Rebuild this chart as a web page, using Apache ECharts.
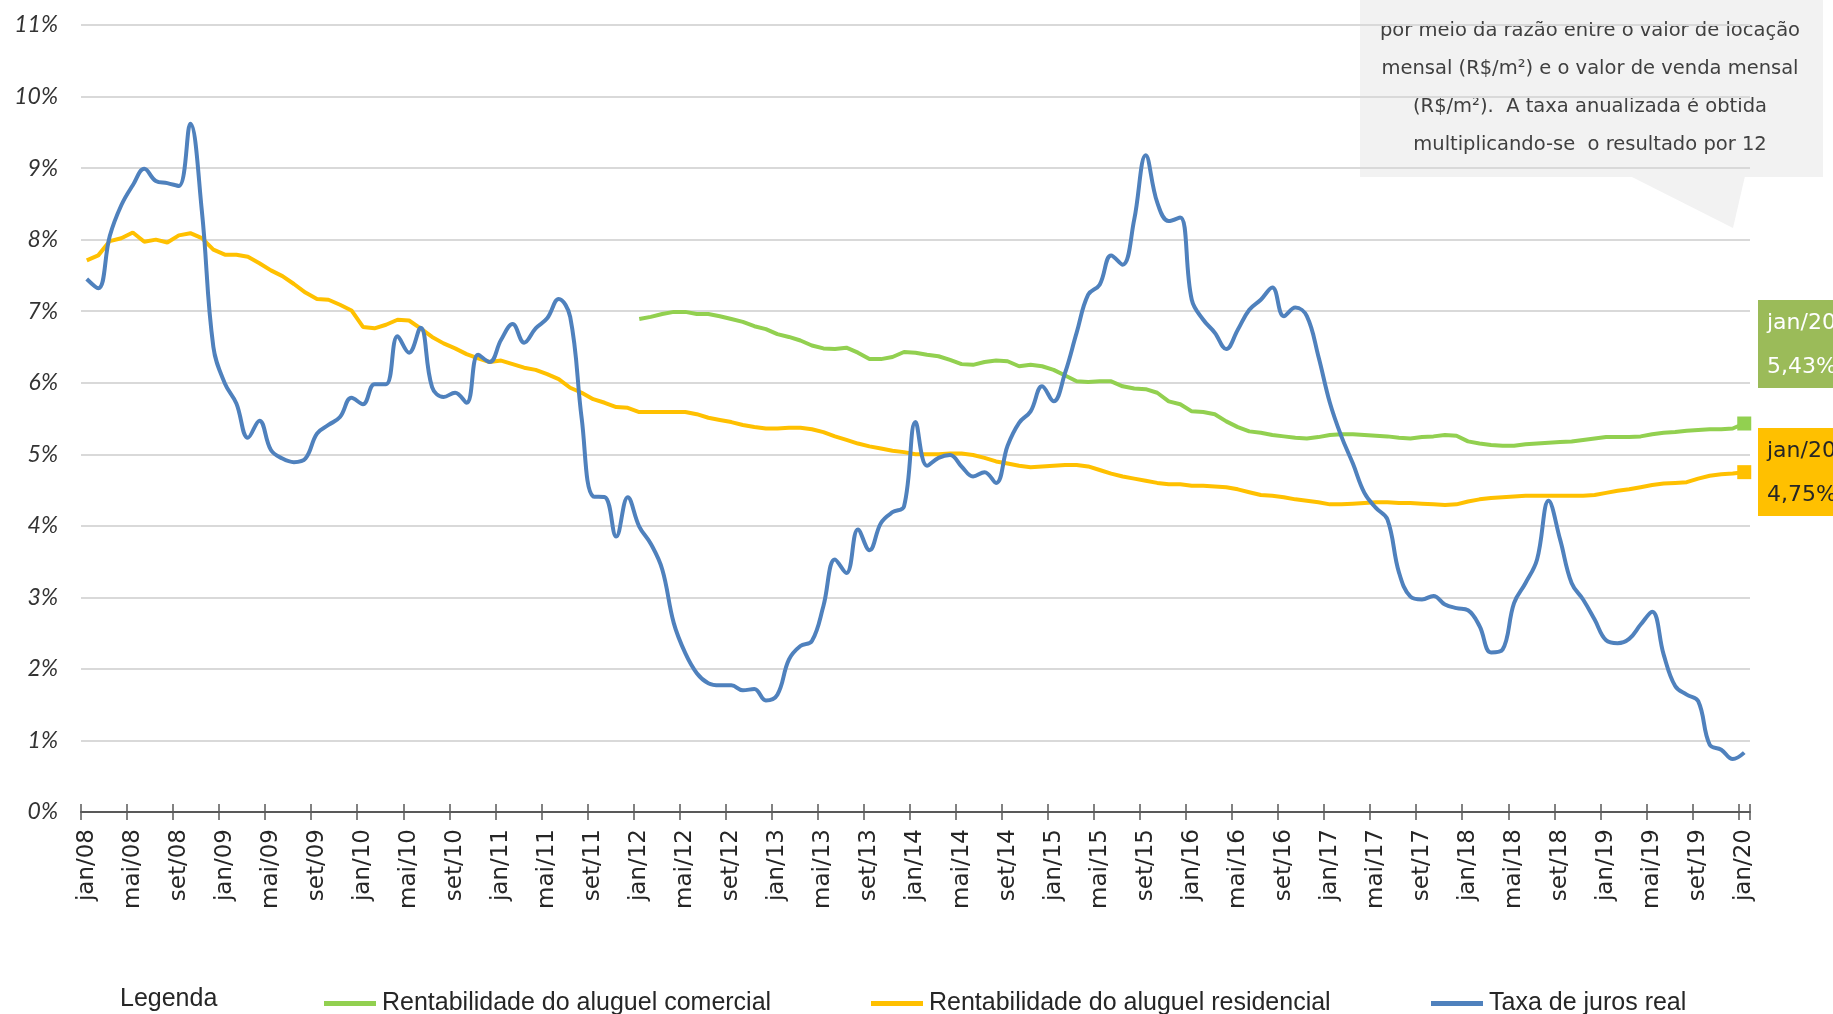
<!DOCTYPE html>
<html>
<head>
<meta charset="utf-8">
<script src="https://cdn.jsdelivr.net/npm/echarts@6/dist/echarts.min.js"></script>
<style>
html,body{margin:0;padding:0;background:#fff;}
#chart{width:1833px;height:1014px;}
</style>
</head>
<body>
<div id="chart"></div>
<script>
// ---- data ----
const monthNames = ['jan','fev','mar','abr','mai','jun','jul','ago','set','out','nov','dez'];
const yearNames = ['08','09','10','11','12','13','14','15','16','17','18','19','20'];
const categories = [];
for (const y of yearNames) { for (const m of monthNames) { if (categories.length < 145) categories.push(m + '/' + y); } }

const yTicks = [0,1,2,3,4,5,6,7,8,9,10,11];

const seriesNames = ['Rentabilidade do aluguel comercial', 'Rentabilidade do aluguel residencial', 'Taxa de juros real'];

const taxaJurosReal = [
7.45,7.32,8.05,8.48,8.76,8.99,8.82,8.79,8.75,9.62,8.40,6.50,
5.99,5.71,5.23,5.47,5.06,4.94,4.89,4.94,5.29,5.41,5.52,5.79,
5.70,5.98,5.98,6.65,6.42,6.77,5.94,5.80,5.86,5.72,6.39,6.29,
6.60,6.82,6.56,6.76,6.90,7.17,6.92,5.50,4.41,4.40,3.85,4.40,
3.99,3.75,3.39,2.64,2.22,1.94,1.80,1.77,1.77,1.70,1.72,1.56,
1.64,2.13,2.32,2.39,2.88,3.53,3.34,3.95,3.66,4.04,4.19,4.27,
5.45,4.84,4.95,4.99,4.83,4.69,4.75,4.60,5.12,5.44,5.60,5.95,
5.74,6.14,6.70,7.23,7.37,7.78,7.65,8.28,9.18,8.52,8.26,8.31,
7.16,6.88,6.70,6.47,6.74,7.02,7.16,7.33,6.93,7.05,6.93,6.37,
5.72,5.25,4.87,4.46,4.25,4.09,3.35,3.01,2.97,3.02,2.90,2.85,
2.82,2.60,2.23,2.27,2.92,3.20,3.53,4.35,3.81,3.20,2.97,2.69,
2.40,2.36,2.42,2.62,2.80,2.20,1.76,1.64,1.55,0.94,0.87,0.74,
0.83];

const aluguelResidencial = [
7.71,7.78,7.98,8.02,8.10,7.97,8.00,7.96,8.06,8.09,8.02,7.86,
7.79,7.79,7.76,7.67,7.57,7.49,7.38,7.26,7.17,7.16,7.09,7.01,
6.78,6.76,6.81,6.88,6.87,6.76,6.64,6.55,6.48,6.40,6.34,6.29,
6.31,6.26,6.21,6.18,6.12,6.05,5.93,5.86,5.77,5.72,5.66,5.65,
5.59,5.59,5.59,5.59,5.59,5.56,5.51,5.48,5.45,5.41,5.38,5.36,
5.36,5.37,5.37,5.35,5.31,5.25,5.20,5.15,5.11,5.08,5.05,5.03,
5.00,5.00,5.00,5.01,5.01,4.99,4.95,4.90,4.87,4.84,4.82,4.83,
4.84,4.85,4.85,4.83,4.78,4.73,4.69,4.66,4.63,4.60,4.58,4.58,
4.56,4.56,4.55,4.54,4.51,4.47,4.43,4.42,4.40,4.37,4.35,4.33,
4.30,4.30,4.31,4.32,4.33,4.33,4.32,4.32,4.31,4.30,4.29,4.30,
4.34,4.37,4.39,4.40,4.41,4.42,4.42,4.42,4.42,4.42,4.42,4.43,
4.46,4.49,4.51,4.54,4.57,4.59,4.60,4.61,4.66,4.70,4.72,4.73,
4.75];

const aluguelComercial = [
null,null,null,null,null,null,null,null,null,null,null,null,
null,null,null,null,null,null,null,null,null,null,null,null,
null,null,null,null,null,null,null,null,null,null,null,null,
null,null,null,null,null,null,null,null,null,null,null,null,
6.89,6.92,6.96,6.99,6.99,6.96,6.96,6.93,6.89,6.85,6.79,6.75,
6.68,6.64,6.59,6.52,6.48,6.47,6.49,6.42,6.33,6.33,6.36,6.43,
6.42,6.39,6.37,6.32,6.26,6.25,6.29,6.31,6.30,6.23,6.25,6.23,
6.18,6.10,6.02,6.01,6.02,6.02,5.95,5.92,5.91,5.86,5.74,5.70,
5.60,5.59,5.56,5.46,5.38,5.32,5.30,5.27,5.25,5.23,5.22,5.24,
5.27,5.28,5.28,5.27,5.26,5.25,5.23,5.22,5.24,5.25,5.27,5.26,
5.18,5.15,5.13,5.12,5.12,5.14,5.15,5.16,5.17,5.18,5.20,5.22,
5.24,5.24,5.24,5.25,5.28,5.30,5.31,5.33,5.34,5.35,5.35,5.36,
5.43];

const lastLabelComercial = ['jan/20', '5,43%'];
const lastLabelResidencial = ['jan/20', '4,75%'];

const noteLines = [
  'por meio da razão entre o valor de locação',
  'mensal (R$/m²) e o valor de venda mensal',
  '(R$/m²).  A taxa anualizada é obtida',
  'multiplicando-se  o resultado por 12'
];

// ---- chart ----
const chart = echarts.init(document.getElementById('chart'));

function withEndMarker(arr) {
  return arr.map((v, i) => i === arr.length - 1 ? { value: v, symbol: 'rect', symbolSize: 14 } : v);
}

const COL_GREEN = '#92d050', COL_YELLOW = '#ffc000', COL_BLUE = '#4f81bd';

const legendCommon = {
  icon: 'rect', itemWidth: 52, itemHeight: 5, itemGap: 6, top: 991, padding: 0,
  textStyle: { fontFamily: 'Liberation Sans', fontSize: 25, color: '#262626', padding: [0,0,0,1] },
  selectedMode: false
};

const noteGraphics = noteLines.map((t, i) => ({
  type: 'text', z: -9,
  style: { text: t, x: 1590, y: 31 + i * 38, align: 'center', verticalAlign: 'middle',
           font: '19.5px "DejaVu Sans"', fill: '#404040' }
}));

chart.setOption({
  animation: false,
  backgroundColor: '#ffffff',
  grid: { left: 81, right: 83, top: 25, bottom: 202, containLabel: false },
  legend: [
    Object.assign({}, legendCommon, { left: 324, data: [seriesNames[0]] }),
    Object.assign({}, legendCommon, { left: 871, data: [seriesNames[1]] }),
    Object.assign({}, legendCommon, { left: 1431, data: [seriesNames[2]] })
  ],
  xAxis: [{
    type: 'category', data: categories, boundaryGap: true, position: 'bottom',
    axisLine: { show: true, lineStyle: { color: '#595959', width: 2 } },
    axisTick: { show: true, interval: 3, length: 8, lineStyle: { color: '#595959', width: 1.5 } },
    axisLabel: { interval: 3, rotate: 90, margin: 17, fontFamily: 'DejaVu Sans', fontSize: 23, color: '#262626' },
    splitLine: { show: false }
  }, {
    type: 'category', data: categories, boundaryGap: true, position: 'bottom',
    axisLine: { show: false },
    axisTick: { show: true, inside: true, interval: 3, length: 8, lineStyle: { color: '#595959', width: 1.5 } },
    axisLabel: { show: false },
    splitLine: { show: false }
  }],
  yAxis: {
    type: 'value', min: yTicks[0], max: yTicks[yTicks.length - 1], interval: 1,
    axisLine: { show: false }, axisTick: { show: false },
    axisLabel: { formatter: '{value}%', margin: 23, fontFamily: 'Lato', fontStyle: 'italic',
                 fontSize: 23, color: '#333333' },
    splitLine: { show: true, lineStyle: { color: '#d9d9d9', width: 2 } }
  },
  series: [
    { name: seriesNames[0], type: 'line', data: withEndMarker(aluguelComercial), symbol: 'none',
      showAllSymbol: true, connectNulls: false, color: COL_GREEN,
      lineStyle: { width: 4, color: COL_GREEN }, itemStyle: { color: COL_GREEN }, z: 3 },
    { name: seriesNames[1], type: 'line', data: withEndMarker(aluguelResidencial), symbol: 'none',
      showAllSymbol: true, color: COL_YELLOW,
      lineStyle: { width: 4, color: COL_YELLOW }, itemStyle: { color: COL_YELLOW }, z: 3 },
    { name: seriesNames[2], type: 'line', data: taxaJurosReal, symbol: 'none', smooth: 0.4,
      color: COL_BLUE, lineStyle: { width: 4, color: COL_BLUE }, itemStyle: { color: COL_BLUE }, z: 4 }
  ],
  graphic: [
    { type: 'rect', z: -10, shape: { x: 1360, y: -5, width: 463, height: 182 }, style: { fill: '#f2f2f2' } },
    { type: 'polygon', z: -10, shape: { points: [[1630,176],[1745,176],[1733,228]] }, style: { fill: '#f2f2f2' } },
    ...noteGraphics,
    { type: 'text', z: 10, style: { text: 'Legenda', x: 120, y: 999, verticalAlign: 'middle',
        font: '25px "Liberation Sans"', fill: '#262626' } },
    { type: 'rect', z: 10, shape: { x: 1758, y: 300, width: 90, height: 88 }, style: { fill: '#9bbb59' } },
    { type: 'text', z: 11, style: { text: lastLabelComercial[0], x: 1767, y: 323, verticalAlign: 'middle',
        font: '22px "DejaVu Sans"', fill: '#ffffff' } },
    { type: 'text', z: 11, style: { text: lastLabelComercial[1], x: 1767, y: 367, verticalAlign: 'middle',
        font: '22px "DejaVu Sans"', fill: '#ffffff' } },
    { type: 'rect', z: 10, shape: { x: 1758, y: 428, width: 90, height: 88 }, style: { fill: '#ffc000' } },
    { type: 'text', z: 11, style: { text: lastLabelResidencial[0], x: 1767, y: 451, verticalAlign: 'middle',
        font: '22px "DejaVu Sans"', fill: '#262626' } },
    { type: 'text', z: 11, style: { text: lastLabelResidencial[1], x: 1767, y: 495, verticalAlign: 'middle',
        font: '22px "DejaVu Sans"', fill: '#262626' } }
  ]
});
</script>
</body>
</html>
